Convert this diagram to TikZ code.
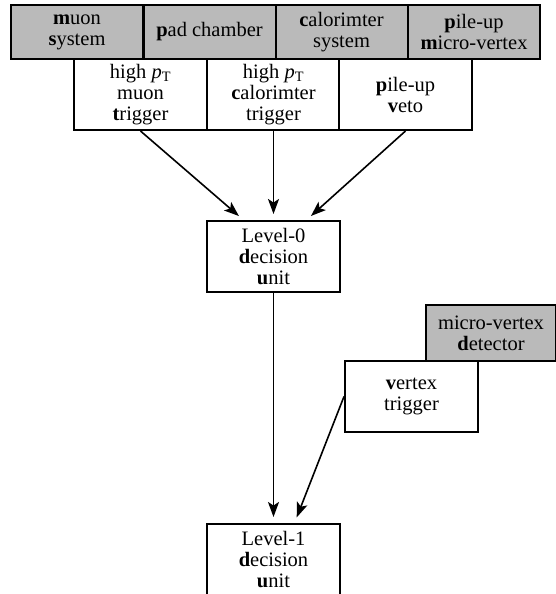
\documentclass[tikz,border=0pt]{standalone}
\usepackage{fontspec}
\setmainfont{Liberation Serif}
\usetikzlibrary{arrows.meta,calc}
\newcommand{\fl}[1]{\textbf{#1}}
\newcommand{\pT}{\textit{p}\textsubscript{T}}

\begin{document}
\begin{tikzpicture}[x=1pt,y=-1pt,
    dnode/.style={draw,fill=black!27,line width=2pt,minimum width=132pt,minimum height=54pt,inner sep=0pt,align=center,font=\fontsize{20.5}{21}\selectfont},
    tnode/.style={draw,fill=white,line width=2pt,minimum width=133pt,minimum height=71pt,inner sep=0pt,align=center,font=\fontsize{20.5}{21}\selectfont},
    arr/.style={-{Stealth[length=15pt,width=11pt,inset=3.5pt]},line width=1.6pt,shorten >=6pt}]
    \useasboundingbox (0,0) rectangle (556,594);
    % detectors
    \node[dnode] (mu) at (77,32) {\fl{m}uon\\\fl{s}ystem};
    \node[dnode] (pad) at (209.5,32) {\fl{p}ad chamber};
    \node[dnode] (cal) at (341.5,32) {\fl{c}alorimter\\system};
    \node[dnode] (pu) at (474,32) {\fl{p}ile-up\\\fl{m}icro-vertex};
    % triggers
    \node[tnode] (hmu) at (140.5,94.5) {high \pT\\muon\\\fl{t}rigger};
    \node[tnode] (hcal) at (273.5,94.5) {high \pT\\\fl{c}alorimter\\trigger};
    \node[tnode] (veto) at (405.5,94.5) {\fl{p}ile-up\\\fl{v}eto};
    \node[tnode] (L0) at (273.5,256.5) {Level-0\\\fl{d}ecision\\\fl{u}nit};
    \node[dnode,minimum width=130pt,minimum height=56pt] (mvd) at (491,333) {micro-vertex\\\fl{d}etector};
    \node[tnode] (vt) at (411.5,396.5) {\fl{v}ertex\\trigger};
    \node[tnode] (L1) at (273.5,559.5) {Level-1\\\fl{d}ecision\\\fl{u}nit};

    \draw[arr] (hmu.south) -- ($(L0.north)+(-30,0)$);
    \draw[arr] (hcal.south) -- (L0.north);
    \draw[arr] (veto.south) -- ($(L0.north)+(33,0)$);
    \draw[arr] (L0.south) -- (L1.north);
    \draw[arr] (vt.west) -- ($(L1.north)+(21,0)$);
\end{tikzpicture}
\end{document}
